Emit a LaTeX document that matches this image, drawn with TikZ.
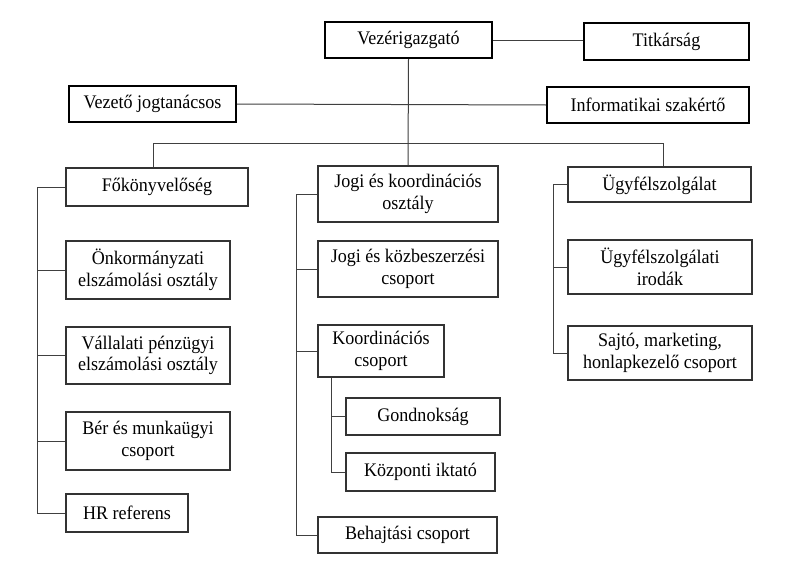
\documentclass[tikz,border=0pt]{standalone}
\usepackage{fontspec}
\setmainfont{Liberation Serif}[FakeStretch=0.94]
\begin{document}
\begin{tikzpicture}[x=1pt,y=-1pt,
  box/.style={draw=black!80,line width=1.1pt,inner sep=0pt,align=center,
    font=\fontsize{19.2}{21.5}\selectfont,text=black},
  topbox/.style={box,draw=black,line width=2pt},
  conn/.style={draw=black!75,line width=1pt}]
\useasboundingbox[fill=white] (0,0) rectangle (803,570);
% top level
\node[topbox,minimum width=167pt,minimum height=36pt] (vez) at (408.5,40) {Vezérigazgató};
\node[topbox,minimum width=165pt,minimum height=37pt] (tit) at (666.5,41.5) {Titkárság};
\node[topbox,minimum width=167pt,minimum height=36pt] (vjog) at (152.5,104) {Vezető jogtanácsos};
\node[topbox,minimum width=202pt,minimum height=36pt] (inf) at (648,105) {Informatikai szakértő};
% column 1
\node[box,minimum width=182pt,minimum height=38pt] (fok) at (157,187) {Főkönyvelőség};
\node[box,minimum width=164pt,minimum height=58pt] (onk) at (148,270) {Önkormányzati\\elszámolási osztály};
\node[box,minimum width=164pt,minimum height=57pt] (vall) at (148,355.5) {Vállalati pénzügyi\\elszámolási osztály};
\node[box,minimum width=164pt,minimum height=58pt] (ber) at (148,441) {Bér és munkaügyi\\csoport};
\node[box,minimum width=122pt,minimum height=38pt] (hr) at (127,513) {HR referens};
% column 2
\node[box,minimum width=180pt,minimum height=56pt] (jk) at (408,194) {Jogi és koordinációs\\osztály};
\node[box,minimum width=180pt,minimum height=56pt] (jkb) at (408,269) {Jogi és közbeszerzési\\csoport};
\node[box,minimum width=126pt,minimum height=52pt] (koord) at (381,351) {Koordinációs\\csoport};
\node[box,minimum width=154pt,minimum height=37pt] (gond) at (423,416.5) {Gondnokság};
\node[box,minimum width=149pt,minimum height=38pt] (kozp) at (420.5,472) {Központi iktató};
\node[box,minimum width=179pt,minimum height=36pt] (beh) at (407.5,535) {Behajtási csoport};
% column 3
\node[box,minimum width=183pt,minimum height=35pt] (ugy) at (659.5,184.5) {Ügyfélszolgálat};
\node[box,minimum width=184pt,minimum height=54pt] (ugyi) at (660,267) {Ügyfélszolgálati\\irodák};
\node[box,minimum width=184pt,minimum height=54pt] (sajto) at (660,353) {Sajtó, marketing,\\honlapkezelő csoport};
% helper coordinates
\coordinate (busL) at (153,143);
\coordinate (busR) at (663,143);
\coordinate (c1) at (37,0);
\coordinate (c2) at (296,0);
\coordinate (c2s) at (331,0);
\coordinate (c3) at (553,0);
% connectors
\draw[conn] (vez.east) -- (vez.east -| tit.west);
\draw[conn] (vjog.east) -- (inf.west);
\draw[conn] (vez.south) -- (jk.north);
\draw[conn] (fok.north -| busL) -- (busL) -- (busR) -- (ugy.north -| busR);
% column 1 links
\draw[conn] (fok.west) -- (fok.west -| c1) -- (hr.west -| c1) -- (hr.west);
\draw[conn] (onk.west -| c1) -- (onk.west);
\draw[conn] (vall.west -| c1) -- (vall.west);
\draw[conn] (ber.west -| c1) -- (ber.west);
% column 2 links
\draw[conn] (jk.west) -- (jk.west -| c2) -- (beh.west -| c2) -- (beh.west);
\draw[conn] (jkb.west -| c2) -- (jkb.west);
\draw[conn] (koord.west -| c2) -- (koord.west);
\draw[conn] (koord.south -| c2s) -- (kozp.west -| c2s) -- (kozp.west);
\draw[conn] (gond.west -| c2s) -- (gond.west);
% column 3 links
\draw[conn] (ugy.west) -- (ugy.west -| c3) -- (sajto.west -| c3) -- (sajto.west);
\draw[conn] (ugyi.west -| c3) -- (ugyi.west);
\end{tikzpicture}
\end{document}
